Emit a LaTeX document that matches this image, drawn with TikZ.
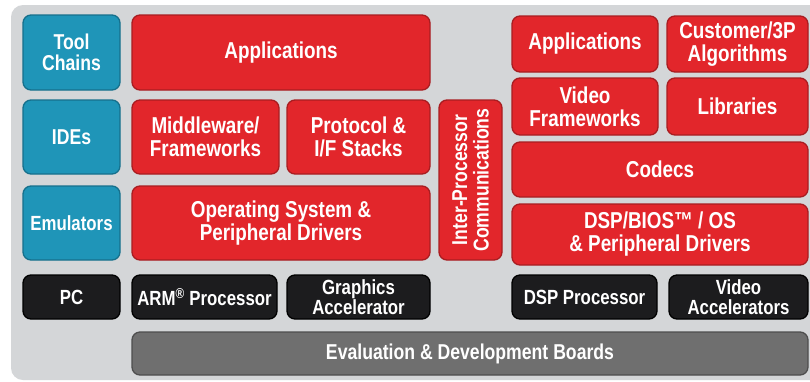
\documentclass[tikz,border=0pt]{standalone}
\usepackage{fontspec}
\newfontfamily\cond[FakeStretch=0.82]{Liberation Sans}
\definecolor{panel}{HTML}{D4D6D8}
\definecolor{boxred}{HTML}{E2262B}
\definecolor{boxreddk}{HTML}{A81D21}
\definecolor{boxblue}{HTML}{1F95B8}
\definecolor{boxbluedk}{HTML}{16708C}
\definecolor{boxblack}{HTML}{1C1C1E}
\definecolor{boxgray}{HTML}{6F6F6F}
\definecolor{boxgraydk}{HTML}{4E4E4E}
\tikzset{
  base/.style={rounded corners=8pt, inner sep=0pt, align=center, text=white, line width=1.3pt, font=\cond\bfseries},
  redbox/.style={base, fill=boxred, draw=boxreddk},
  bluebox/.style={base, fill=boxblue, draw=boxbluedk},
  blackbox/.style={base, fill=boxblack, draw=black},
  graybox/.style={base, fill=boxgray, draw=boxgraydk},
  fred/.style={font=\cond\bfseries\fontsize{23}{23}\selectfont},
  fblue/.style={font=\cond\bfseries\fontsize{21.5}{21.5}\selectfont},
  fblk/.style={font=\cond\bfseries\fontsize{20.5}{20.5}\selectfont},
}
\newcommand{\mybox}[7]{\node[#2, minimum width={#5pt-#3pt}, minimum height={#6pt-#4pt}] (#1) at ({(#3+#5)/2},{(#4+#6)/2}) {#7};}
\begin{document}
\begin{tikzpicture}[x=1pt,y=-1pt]
\useasboundingbox (0,0) rectangle (810,381);
\fill[white] (0,0) rectangle (810,381);
\fill[panel, rounded corners=12pt] (11,5) rectangle (830,380);
% left column
\mybox{tool}{bluebox,fblue}{23}{15}{120}{90}{Tool\\Chains}
\mybox{ide}{bluebox,fblue}{23}{100}{120}{174}{IDEs}
\mybox{emu}{bluebox,fblk}{23}{186}{120}{260}{Emulators}
\mybox{pc}{blackbox,fblk}{23}{275}{120}{319}{PC}
% ARM side
\mybox{appl}{redbox,fred}{132}{15}{430}{90}{Applications}
\mybox{mid}{redbox,fred}{132}{100}{279}{174}{Middleware/\\Frameworks}
\mybox{prot}{redbox,fred}{287}{100}{430}{174}{Protocol \&\\I/F Stacks}
\mybox{os}{redbox,fred}{132}{186}{430}{260}{Operating System \&\\Peripheral Drivers}
\mybox{arm}{blackbox,fblk}{132}{275}{277}{319}{ARM\textsuperscript{®} Processor}
\mybox{gfx}{blackbox,fblk}{287}{275}{430}{319}{Graphics\\Accelerator}
% inter-processor
\node[redbox, fblue, rotate=90, minimum width=160pt, minimum height=63pt] (ipc) at (470.5,180) {Inter-Processor\\Communications};
% DSP side
\mybox{appr}{redbox,fred}{512}{16}{658}{72}{Applications}
\mybox{cust}{redbox,fred}{667}{16}{808}{72}{Customer/3P\\Algorithms}
\mybox{vfw}{redbox,fred}{512}{78}{658}{135}{Video\\Frameworks}
\mybox{lib}{redbox,fred}{667}{78}{808}{135}{Libraries}
\mybox{codec}{redbox,fred}{512}{142}{808}{197}{Codecs}
\mybox{dsp}{redbox,fred}{512}{204}{808}{265}{DSP/BIOS™ / OS\\\& Peripheral Drivers}
\mybox{dspp}{blackbox,fblk}{512}{275}{657}{319}{DSP Processor}
\mybox{vacc}{blackbox,fblk}{669}{275}{808}{319}{Video\\Accelerators}
% boards
\mybox{eval}{graybox,fblue}{132}{332}{808}{375}{Evaluation \& Development Boards}
\end{tikzpicture}
\end{document}
